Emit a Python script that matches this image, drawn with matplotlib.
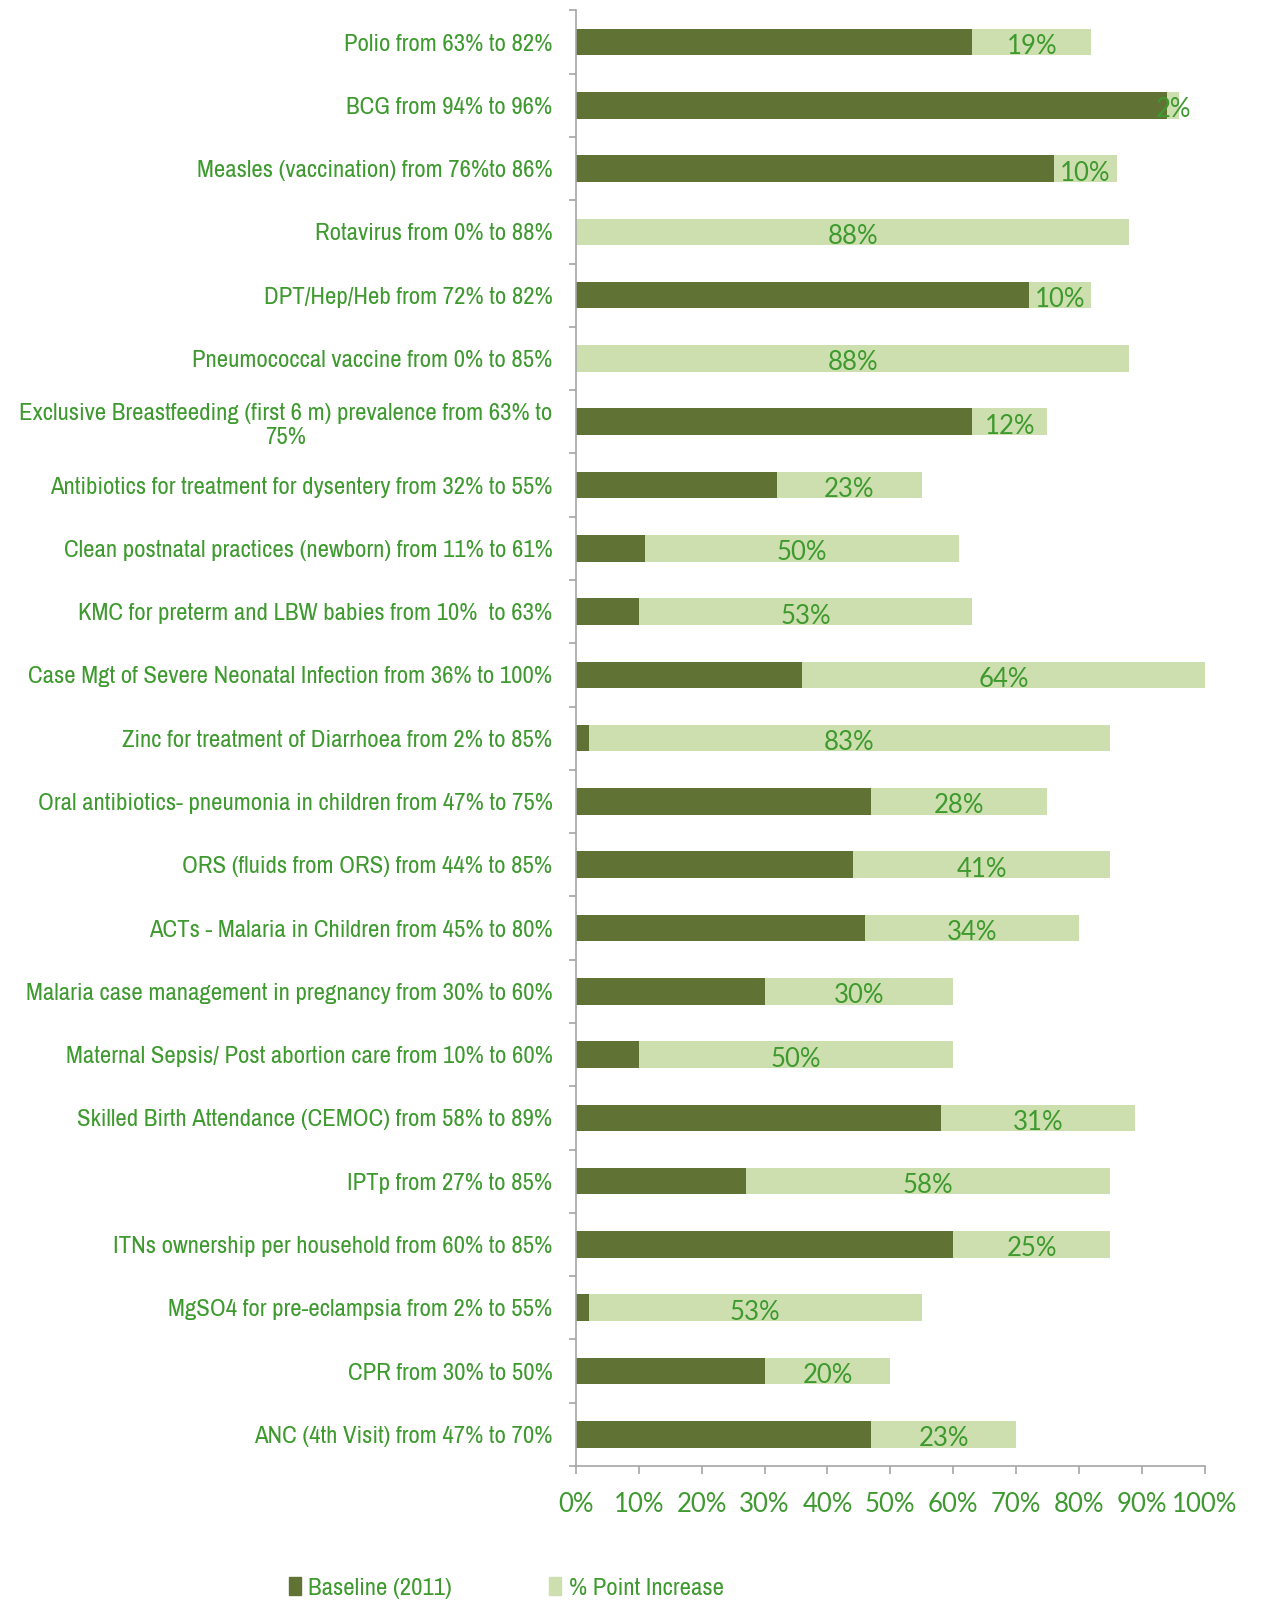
import matplotlib
matplotlib.use('Agg')
import matplotlib.pyplot as plt
from matplotlib import font_manager
from matplotlib.font_manager import FontProperties
from matplotlib.patches import Patch
from matplotlib.ticker import FixedLocator, PercentFormatter

# Chart data
categories = [
    'Polio from 63% to 82%',
    'BCG from 94% to 96%',
    'Measles (vaccination) from 76%to 86%',
    'Rotavirus from 0% to 88%',
    'DPT/Hep/Heb from 72% to 82%',
    'Pneumococcal vaccine from 0% to 85%',
    'Exclusive Breastfeeding (first 6 m) prevalence from 63% to\n75%',
    'Antibiotics for treatment for dysentery from 32% to 55%',
    'Clean postnatal practices (newborn) from 11% to 61%',
    'KMC for preterm and LBW babies from 10%  to 63%',
    'Case Mgt of Severe Neonatal Infection from 36% to 100%',
    'Zinc for treatment of Diarrhoea from 2% to 85%',
    'Oral antibiotics- pneumonia in children from 47% to 75%',
    'ORS (fluids from ORS) from 44% to 85%',
    'ACTs - Malaria in Children from 45% to 80%',
    'Malaria case management in pregnancy from 30% to 60%',
    'Maternal Sepsis/ Post abortion care from 10% to 60%',
    'Skilled Birth Attendance (CEMOC) from 58% to 89%',
    'IPTp from 27% to 85%',
    'ITNs ownership per household from 60% to 85%',
    'MgSO4 for pre-eclampsia from 2% to 55%',
    'CPR from 30% to 50%',
    'ANC (4th Visit) from 47% to 70%',
]
baseline = [63, 94, 76, 0, 72, 0, 63, 32, 11, 10, 36, 2, 47, 44, 46, 30, 10, 58, 27, 60, 2, 30, 47]
increase = [19, 2, 10, 88, 10, 88, 12, 23, 50, 53, 64, 83, 28, 41, 34, 30, 50, 31, 58, 25, 53, 20, 23]
x_ticks = [0, 10, 20, 30, 40, 50, 60, 70, 80, 90, 100]
legend_labels = ['Baseline (2011)', '% Point Increase']

dark = '#617334'
light = '#cddfae'
text_green = '#3e9a2f'
axis_gray = '#a6a6a6'

# pick a narrow / condensed regular font if there is one
candidates = []
for f in font_manager.fontManager.ttflist:
    condensed = ('Narrow' in f.name or 'Condensed' in f.name
                 or f.stretch in ('condensed', 'semi-condensed'))
    if condensed and f.style == 'normal' and f.weight in (400, 'normal', 'regular'):
        rank = 0 if 'Narrow' in f.name else (1 if 'Roboto' in f.name else 2)
        candidates.append((rank, f.fname))
candidates.sort()


def fp(size):
    if candidates:
        return FontProperties(fname=candidates[0][1], size=size)
    return FontProperties(family='Liberation Sans', size=size)


def num_fp(size):
    return FontProperties(family=['Lato', 'DejaVu Sans'], size=size)


fig = plt.figure(figsize=(12.75, 16.03), dpi=100)
ax = fig.add_axes([0.4518, 0.0855, 0.493, 0.908])

# scale the label size so the text width matches the original
renderer = fig.canvas.get_renderer()
probe = fig.text(0, 0, categories[0], fontproperties=fp(17))
scale = 208 / probe.get_window_extent(renderer).width
probe.remove()
cat_size = 17 * scale

pos = list(range(len(categories)))
ax.barh(pos, baseline, height=0.42, color=dark)
ax.barh(pos, increase, left=baseline, height=0.42, color=light)

for i in pos:
    ax.text(baseline[i] + increase[i] / 2, i + 0.07, f'{increase[i]}%',
            ha='center', va='center', color=text_green, fontproperties=num_fp(18.5))

ax.set_xlim(0, 100)
ax.set_ylim(len(categories) - 0.5, -0.5)
ax.xaxis.set_major_locator(FixedLocator(x_ticks))
ax.xaxis.set_major_formatter(PercentFormatter(decimals=0))

ax.set_yticks(pos)
ax.set_yticklabels(categories, color=text_green, multialignment='center')
for lbl in ax.get_yticklabels():
    lbl.set_fontproperties(fp(cat_size))
ax.set_yticks([p - 0.5 for p in pos] + [len(categories) - 0.5], minor=True)
ax.tick_params(axis='y', which='major', length=0, pad=17)
ax.tick_params(axis='y', which='minor', length=5, color=axis_gray, width=1.2)
ax.tick_params(axis='x', length=6, color=axis_gray, width=1.2, pad=13,
               labelcolor=text_green)
for lbl in ax.get_xticklabels():
    lbl.set_fontproperties(num_fp(18.5))

for side in ['top', 'right']:
    ax.spines[side].set_visible(False)
for side in ['left', 'bottom']:
    ax.spines[side].set_color(axis_gray)
    ax.spines[side].set_linewidth(1.2)

handles = [Patch(color=dark), Patch(color=light)]
leg = fig.legend(handles, legend_labels, loc='center', bbox_to_anchor=(0.397, 0.0095),
                 ncol=2, frameon=False, handlelength=0.5, handleheight=0.75,
                 handletextpad=0.3, columnspacing=3.9, prop=fp(cat_size))
for t in leg.get_texts():
    t.set_color(text_green)

fig.savefig('out.png', dpi=100)
